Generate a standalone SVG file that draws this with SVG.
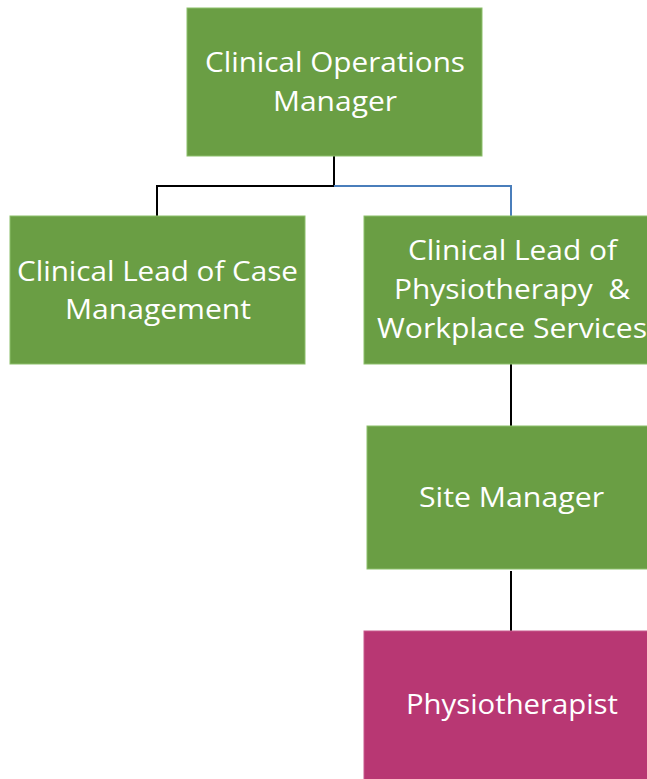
<svg xmlns="http://www.w3.org/2000/svg" width="647" height="779" viewBox="0 0 647 779">
<style>
.g{fill:#6A9E44;stroke:#8CBF6A;stroke-width:1}
.m{fill:#B83773;stroke:#C85A8E;stroke-width:1}
.t{font-family:"Open Sans","Liberation Sans",sans-serif;font-size:28px;fill:#FFFFFF;text-anchor:middle}
.c{fill:none;stroke:#000000;stroke-width:2}
.b{fill:none;stroke:#4A7EBB;stroke-width:2}
</style>
<rect width="647" height="779" fill="#FFFFFF"/>
<g id="connectors">
<path class="c" d="M334 156 V186 H157 V216"/>
<path class="b" d="M334 186 H511 V216"/>
<path class="c" d="M511 364 V426"/>
<path class="c" d="M511 571 V631"/>
</g>
<g id="n1">
<rect class="g" x="187" y="8" width="295" height="148"/>
<text class="t" x="335" y="72" textLength="260" lengthAdjust="spacingAndGlyphs">Clinical Operations</text>
<text class="t" x="335" y="111" textLength="124" lengthAdjust="spacingAndGlyphs">Manager</text>
</g>
<g id="n2">
<rect class="g" x="10" y="216" width="295" height="148"/>
<text class="t" x="157.5" y="281" textLength="281" lengthAdjust="spacingAndGlyphs">Clinical Lead of Case</text>
<text class="t" x="158" y="319" textLength="186" lengthAdjust="spacingAndGlyphs">Management</text>
</g>
<g id="n3">
<rect class="g" x="364" y="216" width="295" height="148"/>
<text class="t" x="512.5" y="260" textLength="209" lengthAdjust="spacingAndGlyphs">Clinical Lead of</text>
<text class="t" x="512" y="299" textLength="236" lengthAdjust="spacingAndGlyphs" xml:space="preserve">Physiotherapy  &amp;</text>
<text class="t" x="512" y="338" textLength="270" lengthAdjust="spacingAndGlyphs">Workplace Services</text>
</g>
<g id="n4">
<rect class="g" x="367" y="426" width="292" height="143"/>
<text class="t" x="511.5" y="507" textLength="185" lengthAdjust="spacingAndGlyphs">Site Manager</text>
</g>
<g id="n5">
<rect class="m" x="364" y="631" width="295" height="160"/>
<text class="t" x="512" y="714" textLength="212" lengthAdjust="spacingAndGlyphs">Physiotherapist</text>
</g>
</svg>
